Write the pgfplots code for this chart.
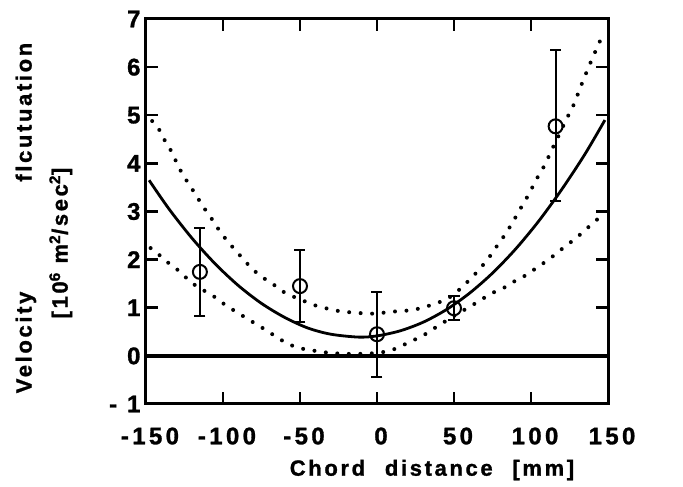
\documentclass[border=0pt]{standalone}
\usepackage{fontspec}
\setmainfont{Liberation Sans}
\newfontfamily\lsfont[LetterSpace=12, FakeBold=1.2]{Liberation Sans Bold}
\newfontfamily\tkfont[LetterSpace=14, FakeBold=1.2]{Liberation Sans Bold}
\usepackage{pgfplots}
\pgfplotsset{compat=1.18}
\newcommand\lab{\fontsize{22}{36}\selectfont\lsfont}
\newcommand\tkl{\fontsize{24}{28}\selectfont\tkfont}
\begin{document}
\begin{tikzpicture}
\begin{axis}[
  scale only axis, width=462pt, height=385pt,
  xmin=-150, xmax=150, ymin=-1, ymax=7,
  axis line style={line width=3pt},
  xtick={-150,-100,-50,0,50,100,150},
  xticklabels={-150,-100,-50,0,50,100,150},
  ytick={-1,0,1,2,3,4,5,6,7},
  yticklabels={- 1,0,1,2,3,4,5,6,7},
  tick align=inside, major tick length=12pt,
  every tick/.style={line width=2.5pt, black},
  ticklabel style={font=\tkl},
  xticklabel style={yshift=-20pt, xshift=4pt},
  yticklabel style={xshift=-2pt},
  xlabel={Chord\hspace{0.9em}distance\hspace{0.9em}[mm]},
  xlabel style={at={(rel axis cs:0.5,0)}, anchor=center, xshift=55pt, yshift=-66pt, font=\lab},
  ylabel={Velocity\hspace{5em}flcutuation\\{}[10\textsuperscript{6} m\textsuperscript{2}/sec\textsuperscript{2}]\hspace*{50pt}\mbox{}},
  ylabel style={at={(axis description cs:-0.221,0.483)}, anchor=center, align=center, font=\lab},
]
% zero line
\addplot[black, line width=3.5pt] coordinates {(-150,0) (150,0)};
% upper confidence band
\addplot[black, line width=4pt, line cap=round, dash pattern=on 0pt off 11.5pt, smooth] coordinates {
(-146,4.88) (-142.5,4.76) (-138.4,4.51) (-133.9,4.27) (-130.3,4.03) (-126.2,3.77)
(-121.1,3.52) (-116.4,3.28) (-112,3.06) (-106.3,2.80) (-101.2,2.55) (-94.3,2.28)
(-88.2,2.06) (-81.1,1.81) (-74.2,1.63) (-66.2,1.46) (-59.1,1.30) (-45.8,1.12)
(-37.5,1.02) (-30.2,0.97) (-22.9,0.92) (-14.6,0.90) (-7.3,0.88) (0,0.88)
(7.3,0.91) (14.6,0.93) (22.5,0.95) (29.2,1.00) (36.5,1.07) (43.8,1.16) (50,1.28)
(58.2,1.52) (65.7,1.77) (72.4,2.03) (77.6,2.27) (82.7,2.50) (88.2,2.78) (92.2,3.01)
(96.5,3.24) (101,3.51) (105.1,3.76) (109.2,3.98) (112.7,4.23) (118,4.58) (123.5,4.95)
(127.6,5.21) (133.7,5.71) (139.8,6.18) (147,6.70)};
% lower confidence band
\addplot[black, line width=4pt, line cap=round, dash pattern=on 0pt off 11.5pt, smooth] coordinates {
(-147,2.24) (-144.5,2.19) (-137.4,1.98) (-130.3,1.81) (-123.1,1.60) (-116,1.42)
(-107.9,1.28) (-100.8,1.11) (-92.7,0.94) (-85.6,0.80) (-78.5,0.66) (-71.3,0.52)
(-64.2,0.37) (-57.1,0.24) (-50,0.16) (-43.3,0.12) (-30,0.06) (-15,0.04) (0,0.06)
(9.4,0.12) (16.7,0.22) (24,0.33) (31.3,0.45) (38,0.59) (45,0.73) (52,0.87)
(60.2,1.02) (67.3,1.16) (74.5,1.30) (82.7,1.42) (89.8,1.56) (96.9,1.68) (104.5,1.85)
(111.8,2.01) (118.8,2.19) (126.5,2.38) (133.7,2.57) (140.8,2.78) (145,2.88)};
% fitted curve
\addplot[black, line width=2.8pt, smooth] coordinates {
(-148,3.65) (-135,3.05) (-120,2.44) (-105,1.91) (-90,1.46) (-75,1.09) (-60,0.80)
(-45,0.58) (-30,0.45) (-12,0.39) (0,0.415) (15,0.52) (30,0.70) (45,0.96) (60,1.30)
(75,1.72) (90,2.22) (105,2.80) (120,3.46) (135,4.19) (148,4.90)};
% data with error bars
\addplot[black, only marks, mark=o, mark size=7pt, mark options={line width=2pt},
  error bars/.cd, y dir=both, y explicit,
  error bar style={line width=2pt},
  error mark options={rotate=90, mark size=5.5pt, line width=2pt}]
coordinates {
(-115,1.745) += (0,0.91) -= (0,0.915)
(-50,1.45) += (0,0.76) -= (0,0.74)
(0,0.45) += (0,0.87) -= (0,0.88)
(50,0.99) += (0,0.25) -= (0,0.25)
(116,4.77) += (0,1.58) -= (0,1.56)
};
\end{axis}
\path (current axis.south west) ++(-146pt,-83pt) rectangle ++(683pt,487pt);
\end{tikzpicture}
\end{document}
